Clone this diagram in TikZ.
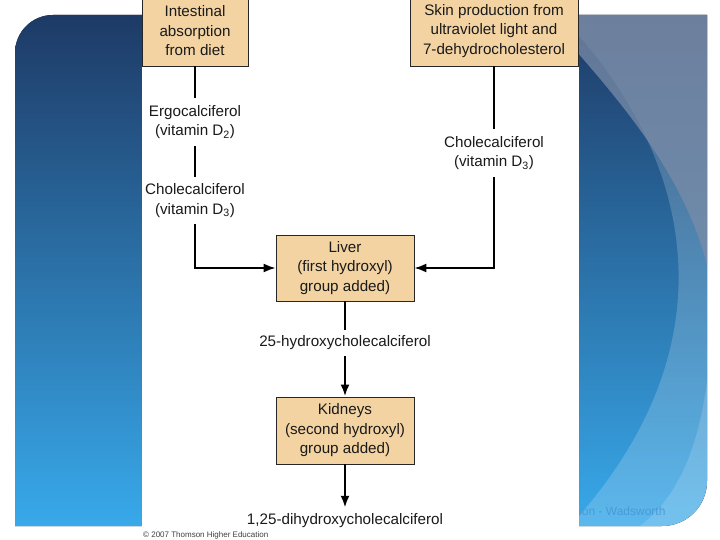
\documentclass[tikz,border=0pt]{standalone}
\usepackage{fontspec}
\setmainfont{Liberation Sans}
\usepackage{xcolor}
\definecolor{BoxTan}{HTML}{F3D3A2}
\definecolor{SlideNavy}{HTML}{1E3A66}
\definecolor{SlideSky}{HTML}{38A9EA}
\definecolor{SlideGray}{HTML}{7A8CA8}
\definecolor{WatermarkBlue}{HTML}{4A9AD8}
\definecolor{InkGray}{HTML}{1A1A1A}
\usetikzlibrary{arrows.meta,positioning}

\begin{document}
\begin{tikzpicture}[x=1pt,y=-1pt,
	every node/.style={text=InkGray,font=\fontsize{15.2}{19.5}\selectfont},
	organbox/.style={draw=black!85,line width=0.9pt,fill=BoxTan,align=center,inner sep=0pt,minimum height=66pt},
	formlabel/.style={align=center,inner sep=0pt,fill=white},
	feedline/.style={line width=1.6pt},
	flowline/.style={line width=2.4pt},
	>={Latex[length=12pt,width=9pt]}]
	\useasboundingbox (0,0) rectangle (720,540);
	
	% slide background
	\fill[top color=SlideNavy,bottom color=SlideSky] (15,526) -- (15,53) .. controls (15,32) and (32,15) .. (53,15) -- (707,15) -- (707,481) .. controls (707,506) and (687,526) .. (662,526) -- cycle;
	\begin{scope}
		\clip (15,526) -- (15,53) .. controls (15,32) and (32,15) .. (53,15) -- (707,15) -- (707,481) .. controls (707,506) and (687,526) .. (662,526) -- cycle;
		\fill[white,opacity=0.18] (560,15) .. controls (690,150) and (740,340) .. (570,526) -- (720,526) -- (720,15) -- cycle;
		\fill[SlideGray,opacity=0.75] (545,15) .. controls (600,80) and (680,160) .. (707,265) -- (720,265) -- (720,15) -- cycle;
		\fill[white,opacity=0.15] (707,200) .. controls (722,380) and (700,480) .. (640,526) -- (720,526) -- (720,200) -- cycle;
	\end{scope}
	\node[anchor=east,text=WatermarkBlue,font=\fontsize{12}{14}\selectfont] (mark) at (669,511) {Thomson - Wadsworth};
	
	% white panel
	\fill[white] (142,0) rectangle (579,540);
	
	\node[organbox,minimum width=106pt,minimum height=70pt] (diet) at (195,31) {Intestinal\\absorption\\from diet};
	\node[organbox,minimum width=168pt,minimum height=70pt] (skin) at (494,31) {Skin production from\\ultraviolet light and\\7-dehydrocholesterol};
	\node[organbox,minimum width=138pt] (liver) at (345,268) {Liver\\(first hydroxyl)\\group added)};
	\node[organbox,minimum width=138pt,minimum height=67pt] (kidneys) at (345,430.5) {Kidneys\\(second hydroxyl)\\group added)};
	
	\node[formlabel,minimum height=48pt] (ergo) at (195,122) {Ergocalciferol\\(vitamin D\textsubscript{2})};
	\node[formlabel,minimum height=47pt] (cholL) at (195,200.5) {Cholecalciferol\\(vitamin D\textsubscript{3})};
	\node[formlabel,minimum height=48pt] (cholR) at (494,153) {Cholecalciferol\\(vitamin D\textsubscript{3})};
	\node[formlabel,minimum height=26pt] (hydroxy) at (345,343) {25-hydroxycholecalciferol};
	\node[formlabel,minimum height=26pt] (dihydroxy) at (345,521) {1,25-dihydroxycholecalciferol};
	
	\node[anchor=west,text=black!75,inner sep=0pt,font=\fontsize{8}{9}\selectfont] (copy) at (143,535) {\textcopyright{} 2007 Thomson Higher Education};
	
	% connectors
	\draw[feedline] (diet.south) -- (ergo.north);
	\draw[feedline] (ergo.south) -- (cholL.north);
	\draw[feedline,->] (cholL.south) |- (liver.west);
	\draw[feedline] (skin.south) -- (cholR.north);
	\draw[feedline,->] (cholR.south) |- (liver.east);
	\draw[flowline] (liver.south) -- (hydroxy.north);
	\draw[flowline,->] (hydroxy.south) -- (kidneys.north);
	\draw[flowline,->] (kidneys.south) -- (dihydroxy.north);
\end{tikzpicture}
\end{document}
